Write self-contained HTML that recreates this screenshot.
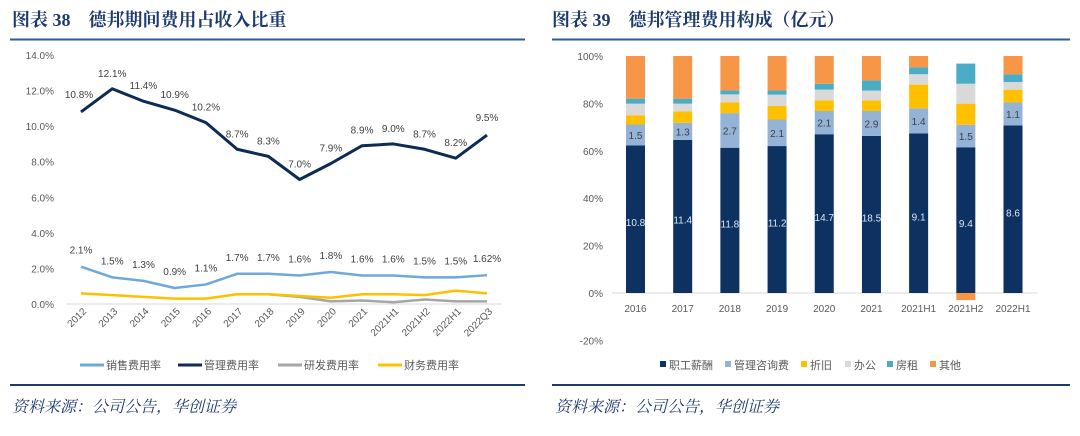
<!DOCTYPE html>
<html><head><meta charset="utf-8">
<style>
body{margin:0;background:#fff;width:1080px;height:431px;overflow:hidden;font-family:"Liberation Sans","Noto Sans CJK SC",sans-serif;}
svg text{font-family:"Liberation Sans","Noto Sans CJK SC",sans-serif;}
.ttl{font-family:"Liberation Serif","Noto Serif CJK SC",serif;font-weight:bold;font-size:18px;fill:#1f3a6e;}
.src{font-family:"Liberation Serif","Noto Serif CJK SC",serif;font-style:italic;font-size:16px;fill:#1f3a6e;}
</style></head><body>
<svg id="s" width="1080" height="431" xmlns="http://www.w3.org/2000/svg">
<text class="ttl" x="12" y="26">图表 38　德邦期间费用占收入比重</text>
<text class="ttl" x="552" y="26">图表 39　德邦管理费用构成（亿元）</text>
<line x1="10" y1="39.5" x2="525" y2="39.5" stroke="#2e5c9a" stroke-width="2"/>
<line x1="552" y1="39.5" x2="1070" y2="39.5" stroke="#2e5c9a" stroke-width="2"/>
<line x1="10" y1="385" x2="525" y2="385" stroke="#1f3a6e" stroke-width="2"/>
<line x1="552" y1="385" x2="1070" y2="385" stroke="#1f3a6e" stroke-width="2"/>
<text class="src" x="12" y="412">资料来源：公司公告，华创证券</text>
<text class="src" x="555" y="412">资料来源：公司公告，华创证券</text>
<g id="L"></g><g id="R"></g>
</svg>
<script>
const lineCats=["2012","2013","2014","2015","2016","2017","2018","2019","2020","2021","2021H1","2021H2","2022H1","2022Q3"];
const salesRate=[2.1,1.5,1.3,0.9,1.1,1.7,1.7,1.6,1.8,1.6,1.6,1.5,1.5,1.62];
const salesLabels=["2.1%","1.5%","1.3%","0.9%","1.1%","1.7%","1.7%","1.6%","1.8%","1.6%","1.6%","1.5%","1.5%","1.62%"];
const adminRate=[10.8,12.1,11.4,10.9,10.2,8.7,8.3,7.0,7.9,8.9,9.0,8.7,8.2,9.5];
const adminLabels=["10.8%","12.1%","11.4%","10.9%","10.2%","8.7%","8.3%","7.0%","7.9%","8.9%","9.0%","8.7%","8.2%","9.5%"];
const rdRate=[null,null,null,null,null,null,0.55,0.4,0.15,0.2,0.1,0.25,0.15,0.15];
const finRate=[0.6,0.5,0.4,0.3,0.3,0.55,0.55,0.45,0.35,0.55,0.55,0.5,0.75,0.6];
const yTicks=[0,2,4,6,8,10,12,14];

const barCats=["2016","2017","2018","2019","2020","2021","2021H1","2021H2","2022H1"];
const salaryPct=[62.3,64.6,61.3,62,67,66.3,67.3,61.5,70.7];
const consultPct=[8.8,7.2,14.6,11.2,9.8,10.5,10.6,9.5,9.7];
const deprPct=[3.9,4.8,4.5,5.7,4.5,4.5,10,8.9,5.4];
const officePct=[4.9,3.3,3.4,4.8,4.5,4.1,4.4,8.4,3.2];
const rentPct=[2.1,2.1,1.7,1.8,2.5,4.3,2.9,8.5,3.3];
const otherPct=[18,18,14.5,14.5,11.7,10.3,4.8,-3,7.7];
const salaryVal=["10.8","11.4","11.8","11.2","14.7","18.5","9.1","9.4","8.6"];
const consultVal=["1.5","1.3","2.7","2.1","2.1","2.9","1.4","1.5","1.1"];
const rTicks=[-20,0,20,40,60,80,100];

const NS="http://www.w3.org/2000/svg";
function mk(p,t,a,txt){const e=document.createElementNS(NS,t);for(const k in a)e.setAttribute(k,a[k]);if(txt!=null)e.textContent=txt;p.appendChild(e);return e;}
// left
const L=document.getElementById('L');
const lx=i=>81+i*(487-81)/(lineCats.length-1);
const ly=v=>304-v*(304-55)/14;
yTicks.forEach(t=>{const e=mk(L,'text',{x:54,y:ly(t)+4,'text-anchor':'end','font-size':10,fill:'#595959'},t.toFixed(1)+'%');
});
const ax=mk(L,'line',{x1:66,x2:502,y1:ly(0),y2:ly(0),stroke:'#d9d9d9'});

lineCats.forEach((c,i)=>{const e=mk(L,'text',{transform:`translate(${lx(i)+6},${312}) rotate(-45)`,'text-anchor':'end','font-size':10,fill:'#595959'},c);
});
function series(vals,color,name){let d='';vals.forEach((v,i)=>{if(v==null)return;d+=(d?'L':'M')+lx(i)+','+ly(v);});
const p=mk(L,'path',{d:d,fill:'none',stroke:color,'stroke-width':name==='admin-rate-line'?3:2.5,'stroke-linejoin':'round'});
}
series(rdRate,'#a6a6a6','rd-rate-line');
series(finRate,'#ffc000','finance-rate-line');
series(salesRate,'#6fa8dc','sales-rate-line');
series(adminRate,'#0d2b55','admin-rate-line');
adminLabels.forEach((s,i)=>{let dx=0,dy=-12;if(i===0){dx=-2;dy=-14;}if(i===13){dy=-14;}
const e=mk(L,'text',{x:lx(i)+dx,y:ly(adminRate[i])+dy,'text-anchor':'middle','font-size':10,fill:'#404040'},s);
});
salesLabels.forEach((s,i)=>{const e=mk(L,'text',{x:lx(i),y:ly(salesRate[i])-13,'text-anchor':'middle','font-size':10,fill:'#404040'},s);
});
const leg=[["销售费用率",'#6fa8dc',80],["管理费用率",'#0d2b55',178],["研发费用率",'#a6a6a6',278],["财务费用率",'#ffc000',378]];
leg.forEach(l=>{const g=mk(L,'g',{});
mk(g,'line',{x1:l[2],x2:l[2]+24,y1:365,y2:365,stroke:l[1],'stroke-width':3});
mk(g,'text',{x:l[2]+26,y:369,'font-size':11,fill:'#595959'},l[0]);});
// right
const R=document.getElementById('R');
const rx=i=>635.5+i*(1013-635.5)/(barCats.length-1);
const ry=v=>293-v*(293-56)/100;
rTicks.forEach(t=>{const e=mk(R,'text',{x:603,y:ry(t)+4,'text-anchor':'end','font-size':10,fill:'#595959'},t+'%');
});
const rax=mk(R,'line',{x1:612,x2:1037,y1:ry(0),y2:ry(0),stroke:'#d9d9d9'});

barCats.forEach((c,i)=>{const e=mk(R,'text',{x:rx(i),y:312,'text-anchor':'middle','font-size':10,fill:'#595959'},c);
});
const segs=[[salaryPct,'#0d3161','bar-salary'],[consultPct,'#95b3d7','bar-consulting'],[deprPct,'#ffc000','bar-depreciation'],[officePct,'#d9d9d9','bar-office'],[rentPct,'#4bacc6','bar-rent'],[otherPct,'#f79646','bar-other']];
barCats.forEach((c,i)=>{let base=0;
segs.forEach(s=>{const v=s[0][i];let y0,y1;
if(v>=0){y0=ry(base+v);y1=ry(base);base+=v;}else{y0=ry(0);y1=ry(v);}
const r=mk(R,'rect',{x:rx(i)-9.5,y:y0,width:19,height:y1-y0,fill:s[1]});
});
const t1=mk(R,'text',{x:rx(i),y:ry(salaryPct[i]*0.48)+4,'text-anchor':'middle','font-size':10,fill:'#dce6f2'},salaryVal[i]);

const t2=mk(R,'text',{x:rx(i),y:ry(salaryPct[i]+consultPct[i]/2)+4,'text-anchor':'middle','font-size':10,fill:'#404040'},consultVal[i]);
});
const rleg=[["职工薪酬",'#0d3161',660],["管理咨询费",'#95b3d7',725],["折旧",'#ffc000',801],["办公",'#d9d9d9',845],["房租",'#4bacc6',887],["其他",'#f79646',930]];
rleg.forEach(l=>{const g=mk(R,'g',{});
mk(g,'rect',{x:l[2],y:361,width:6,height:6,fill:l[1]});
mk(g,'text',{x:l[2]+9,y:369,'font-size':11,fill:'#595959'},l[0]);});
</script>
</body></html>
